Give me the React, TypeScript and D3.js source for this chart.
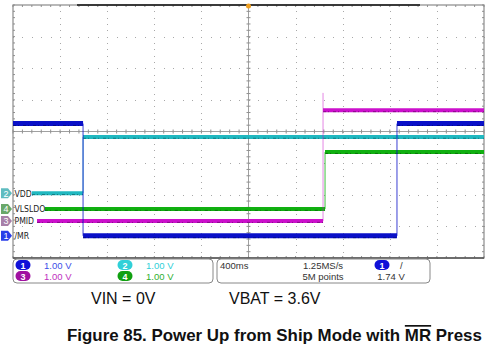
import * as d3 from 'd3'

// time axis in ms (400 ms/div, trigger at center), volts at 1 V/div
const timeRange = [-2000, 2000]
const divRange = [-4, 4]

// channel ground offsets (divisions from center)
const channelNames = ['/MR', 'VDD', 'PMID', 'VLSLDO']
const channelIds = ['1', '2', '3', '4']
const channelOffsets = [-3.3, -1.95, -2.83, -2.45]
const channelColors = ['#0a10c8', '#20b8c0', '#cc10cc', '#10b010']
const markerColors = ['#2a3ee8', '#5fbcc0', '#a880a8', '#6aa86a']

// step traces: times where level changes, and level (V) from that time on
const ch1Times = [-2000, -1405, 1261, 2000]
const ch1Volts = [3.55, 0, 3.55, 3.55]
const ch2Times = [-1839, -1405, 2000]
const ch2Volts = [0, 1.78, 1.78]
const ch3Times = [-1796, 633, 2000]
const ch3Volts = [0, 3.5, 3.5]
const ch4Times = [-1730, 650, 2000]
const ch4Volts = [0, 1.8, 1.8]
const ch3Spike = 4.05

const scaleLabels = [['1', '1.00 V'], ['2', '1.00 V'], ['3', '1.00 V'], ['4', '1.00 V']]
const timebase = '400ms'
const sampleRate = '1.25MS/s'
const recordLength = '5M points'
const triggerLevel = '1.74 V'

export default function App() {
  const left = 13, right = 484, top = 5, bottom = 258
  const x = d3.scaleLinear().domain(timeRange).range([left, right])
  const y = d3.scaleLinear().domain(divRange).range([bottom, top])
  const divW = (right - left) / 10
  const divH = (bottom - top) / 8

  const traces = [
    { t: ch1Times, v: ch1Volts, w: 5 },
    { t: ch2Times, v: ch2Volts, w: 4 },
    { t: ch3Times, v: ch3Volts, w: 4 },
    { t: ch4Times, v: ch4Volts, w: 4 },
  ]
  const order = [1, 3, 2, 0]

  // grid dots
  const dots: [number, number][] = []
  for (let i = 1; i < 8; i++) {
    if (i === 4) continue
    for (let k = 0; k <= 50; k++) dots.push([left + k * divW / 5, top + i * divH])
  }
  for (let i = 1; i < 10; i++) {
    if (i === 5) continue
    for (let k = 0; k <= 40; k++) dots.push([left + i * divW, top + k * divH / 5])
  }
  const ticksH = d3.range(0, 51).map(k => left + k * divW / 5)
  const ticksV = d3.range(0, 41).map(k => top + k * divH / 5)
  const cx = x(0), cy = y(0)
  const font = 'Liberation Sans, Arial, sans-serif'

  const pill = (px: number, py: number, color: string, id: string) => (
    <g>
      <rect x={px - 7.5} y={py - 5} width={15} height={10} rx={5} fill={color} />
      <text x={px} y={py + 3.5} textAnchor="middle" fontSize={9} fontWeight="bold" fill="#fff" fontFamily={font}>{id}</text>
    </g>
  )

  return (
    <svg width={504} height={354} style={{ position: 'absolute', left: 0, top: 0, background: '#fff' }}>
      {/* grid */}
      {dots.map((d, i) => <rect key={i} x={Math.round(d[0])} y={Math.round(d[1])} width={1} height={1} fill="#a8a8a8" />)}
      {/* center axes */}
      <line x1={left} x2={right} y1={cy} y2={cy} stroke="#a0a0a0" strokeWidth={1} />
      <line x1={cx} x2={cx} y1={top} y2={bottom} stroke="#a0a0a0" strokeWidth={1} />
      {ticksH.map((t, i) => <line key={'ch' + i} x1={t} x2={t} y1={cy - 2} y2={cy + 2} stroke="#909090" />)}
      {ticksV.map((t, i) => <line key={'cv' + i} x1={cx - 2} x2={cx + 2} y1={t} y2={t} stroke="#909090" />)}
      {/* border ticks */}
      {ticksH.map((t, i) => <line key={'bt' + i} x1={t} x2={t} y1={top} y2={top + 2} stroke="#909090" />)}
      {ticksH.map((t, i) => <line key={'bb' + i} x1={t} x2={t} y1={bottom - 2} y2={bottom} stroke="#909090" />)}
      {ticksV.map((t, i) => <line key={'bl' + i} x1={left} x2={left + 2} y1={t} y2={t} stroke="#909090" />)}
      {ticksV.map((t, i) => <line key={'br' + i} x1={right - 2} x2={right} y1={t} y2={t} stroke="#909090" />)}
      <rect x={left} y={top} width={right - left} height={bottom - top} fill="none" stroke="#8a8a8a" strokeWidth={1.2} />
      <line x1={left} x2={right} y1={bottom} y2={bottom} stroke="#555" strokeWidth={1.5} />
      <line x1={77} x2={420} y1={top} y2={top} stroke="#111" strokeWidth={1.5} />
      <circle cx={cx} cy={top + 1} r={2.5} fill="#f0a020" />

      {/* traces */}
      {order.map(ci => {
        const tr = traces[ci]
        const off = channelOffsets[ci]
        const segs = []
        for (let i = 0; i < tr.t.length - 1; i++) {
          const yy = y(off + tr.v[i])
          segs.push(<line key={'h' + i} x1={x(tr.t[i])} x2={x(tr.t[i + 1])} y1={yy} y2={yy}
            stroke={channelColors[ci]} strokeWidth={tr.w} />)
          segs.push(<line key={'d' + i} x1={x(tr.t[i])} x2={x(tr.t[i + 1])} y1={yy + tr.w / 2 - 0.6} y2={yy + tr.w / 2 - 0.6}
            stroke="#000" strokeOpacity={0.35} strokeWidth={1} strokeDasharray="3 2 1 4" />)
          if (i > 0 && tr.v[i] !== tr.v[i - 1]) {
            const y0 = y(off + tr.v[i - 1])
            const y1 = ci === 2 ? y(off + ch3Spike) : yy
            segs.push(<line key={'v' + i} x1={x(tr.t[i])} x2={x(tr.t[i])} y1={y0} y2={y1}
              stroke={channelColors[ci]} strokeOpacity={ci === 2 ? 0.5 : 0.8} strokeWidth={1} />)
          }
        }
        return <g key={ci}>{segs}</g>
      })}

      {/* channel markers */}
      {channelOffsets.map((off, ci) => {
        const my = y(off)
        return (
          <g key={'m' + ci}>
            <path d={`M1,${my - 5}H8L12,${my}L8,${my + 5}H1Z`} fill={markerColors[ci]} />
            <text x={6} y={my + 3.5} textAnchor="middle" fontSize={9} fill="#fff" fontFamily={font}>{channelIds[ci]}</text>
            <text x={14.5} y={my + 3.5} fontSize={8.6} fill="#222" fontFamily="DejaVu Sans Condensed, sans-serif"
              fontStretch="condensed">{channelNames[ci]}</text>
          </g>
        )
      })}

      {/* info boxes */}
      <rect x={13} y={259} width={200} height={24} rx={4} fill="none" stroke="#888" />
      <rect x={217} y={259} width={213} height={24} rx={4} fill="none" stroke="#888" />
      {scaleLabels.map((s, i) => {
        const bx = i === 0 || i === 2 ? 23 : 125
        const by = i < 2 ? 265 : 276
        const ci = +s[0] - 1
        const txtColor = ['#4050e8', '#30d0d8', '#c030c0', '#30b030'][ci]
        return (
          <g key={'s' + i}>
            {pill(bx, by, ['#1010d8', '#30d0d8', '#a010a0', '#10a010'][ci], s[0])}
            <text x={bx + 21} y={by + 3.5} fontSize={9.5} fill={txtColor} fontFamily={font}>{s[1]}</text>
          </g>
        )
      })}
      <text x={220} y={268.5} fontSize={9.5} fill="#333" fontFamily={font}>{timebase}</text>
      <text x={323} y={268.5} fontSize={9.5} fill="#333" textAnchor="middle" fontFamily={font}>{sampleRate}</text>
      <text x={323} y={279.5} fontSize={9.5} fill="#333" textAnchor="middle" fontFamily={font}>{recordLength}</text>
      {pill(382, 265, '#1010d8', '1')}
      <text x={400} y={268.5} fontSize={9.5} fill="#333" fontFamily={font}>/</text>
      <text x={391} y={279.5} fontSize={9.5} fill="#333" textAnchor="middle" fontFamily={font}>{triggerLevel}</text>

      {/* annotations */}
      <text x={91} y={304} fontSize={16} fill="#111" fontFamily={font}>VIN = 0V</text>
      <text x={229} y={304} fontSize={16} fill="#111" fontFamily={font}>VBAT = 3.6V</text>
      <text x={67} y={341} fontSize={16.9} fontWeight="bold" fill="#111" fontFamily={font}>
        Figure 85. Power Up from Ship Mode with <tspan style={{ textDecoration: 'overline' }}>MR</tspan> Press
      </text>
    </svg>
  )
}
